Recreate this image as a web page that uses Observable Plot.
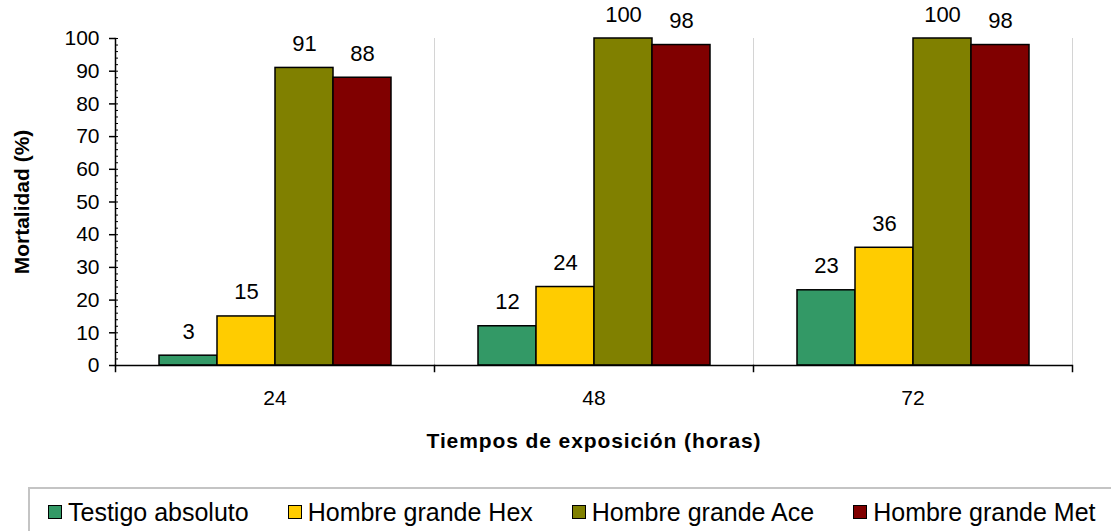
<!DOCTYPE html>
<html><head><meta charset="utf-8">
<script src="https://cdn.jsdelivr.net/npm/d3@7"></script>
<script src="https://cdn.jsdelivr.net/npm/@observablehq/plot@0.6"></script>
<style>
body{margin:0;background:#fff;font-family:"Liberation Sans",Arial,sans-serif;overflow:hidden}
#chart svg{display:block}
g[aria-label="fx-axis label"] text, g[aria-label="y-axis label"] text{font-weight:bold}
g[aria-label="fx-axis label"] text{letter-spacing:0.9px}
.legend{margin-top:17px;margin-left:28px;width:1100px;height:44px;border-top:2px solid #c4c4c4;border-left:2px solid #c4c4c4;display:flex;align-items:center;padding-left:18px;padding-top:1px;box-sizing:content-box;font-size:25px;color:#000;white-space:nowrap}
.item{display:flex;align-items:center;margin-right:39px;line-height:30px;flex-shrink:0}
.sw{width:12px;height:12px;border:1px solid #000;margin-right:6px;flex-shrink:0}
</style></head><body>
<div id="chart"></div>
<div class="legend" id="legend"></div>
<script>
const times = ["24", "48", "72"];
const series = ["Testigo absoluto", "Hombre grande Hex", "Hombre grande Ace", "Hombre grande Met"];
const colors = ["#339966", "#FFCC00", "#808000", "#800000"];
const testigo = [3, 12, 23];
const hex = [15, 24, 36];
const ace = [91, 100, 100];
const met = [88, 98, 98];
const yTicks = [0, 10, 20, 30, 40, 50, 60, 70, 80, 90, 100];
const yMinor = d3.range(0, 101, 2);

const values = [testigo, hex, ace, met];
const data = series.flatMap((s, i) => times.map((t, j) => ({time: t, series: s, value: values[i][j]})));

const W = 1111, H = 470, mt = 38, mb = 105, ml = 114, mr = 38;
const plotH = H - mt - mb;

const chart = Plot.plot({
  width: W, height: H,
  marginTop: mt, marginBottom: mb, marginLeft: ml, marginRight: mr,
  style: {fontFamily: "'Liberation Sans', Arial, sans-serif", fontSize: "21px", color: "#000", background: "#fff", overflow: "visible"},
  fx: {domain: times, padding: 0},
  x: {domain: series, paddingInner: 0, paddingOuter: 0.746, axis: null},
  y: {domain: [0, 100]},
  color: {domain: series, range: colors},
  marks: [
    Plot.frame({anchor: "right", stroke: "#d4d4d4", strokeWidth: 1}),
    Plot.barY(data, {fx: "time", x: "series", y: "value", fill: "series", stroke: "#000", strokeWidth: 1.5}),
    Plot.text(data, {fx: "time", x: "series", y: "value", text: d => String(d.value), dy: -24, fontSize: 22, fill: "#000"}),
    Plot.ruleY([0], {stroke: "#000", strokeWidth: 1.5}),
    Plot.frame({anchor: "left", facetAnchor: "left", stroke: "#000", strokeWidth: 1.5}),
    Plot.frame({anchor: "left", stroke: "#000", strokeWidth: 1.5, insetTop: plotH, insetBottom: -6}),
    Plot.frame({anchor: "right", facetAnchor: "right", stroke: "#000", strokeWidth: 1.5, insetTop: plotH, insetBottom: -6}),
    Plot.axisY({ticks: yTicks, tickSize: 6, tickPadding: 10, label: "Mortalidad (%)", labelAnchor: "center", labelArrow: "none", labelOffset: 101, strokeWidth: 1.5}),
    Plot.axisY({ticks: yMinor, tickSize: -3, tickFormat: () => "", label: null, strokeWidth: 1}),
    Plot.axisFx({anchor: "bottom", tickSize: 0, tickPadding: 25, label: "Tiempos de exposición (horas)", labelAnchor: "center", labelArrow: "none", labelOffset: 82})
  ]
});
document.getElementById("chart").append(chart);

const legend = document.getElementById("legend");
series.forEach((s, i) => {
  const it = document.createElement("div");
  it.className = "item";
  const sw = document.createElement("div");
  sw.className = "sw";
  sw.style.background = colors[i];
  const tx = document.createElement("span");
  tx.textContent = s;
  it.append(sw, tx);
  legend.append(it);
});
</script>
</body></html>
